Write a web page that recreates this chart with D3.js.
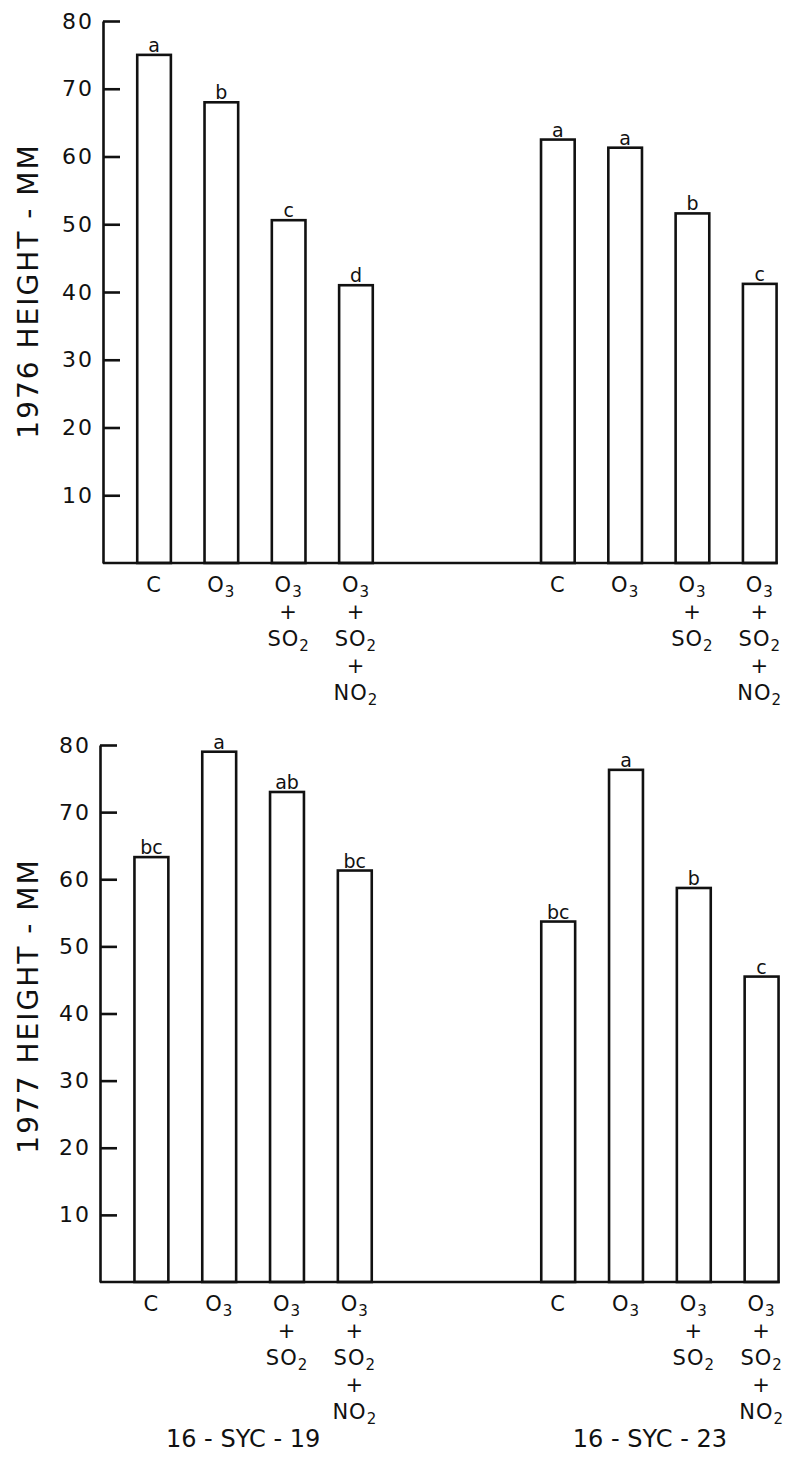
<!DOCTYPE html>
<html>
<head>
<meta charset="utf-8">
<script src="https://cdn.jsdelivr.net/npm/d3@7"></script>
<style>
  body { margin: 0; background: #fff; }
  text { font-family: "DejaVu Sans", sans-serif; fill: #111; }
</style>
</head>
<body>
<div id="chart"></div>
<script>
// data
let clones = ["16-SYC-19", "16-SYC-23"];
let treatments = ["C", "O3", "O3+SO2", "O3+SO2+NO2"];
// label lines for each treatment: [text, subscript]
let treatmentLines = [
  [["C", ""]],
  [["O", "3"]],
  [["O", "3"], ["+", ""], ["SO", "2"]],
  [["O", "3"], ["+", ""], ["SO", "2"], ["+", ""], ["NO", "2"]]
];
let yTicks = [10, 20, 30, 40, 50, 60, 70, 80];

let h1976_19 = [75, 68, 50.6, 41];
let h1976_23 = [62.5, 61.3, 51.6, 41.2];
let h1977_19 = [63.3, 79, 73, 61.3];
let h1977_23 = [53.7, 76.3, 58.7, 45.5];

let let1976_19 = ["a", "b", "c", "d"];
let let1976_23 = ["a", "a", "b", "c"];
let let1977_19 = ["bc", "a", "ab", "bc"];
let let1977_23 = ["bc", "a", "b", "c"];

let svgWidth = 785;
let svgHeight = 1457;

let svg = d3.select("#chart")
  .append("svg")
  .attr("width", svgWidth)
  .attr("height", svgHeight);

// panel layout
let panels = [
  { title: "1976  HEIGHT - MM", axisX: 103, y0: 563, y80: 21, titleY: 291,
    xStart: 120.4, xSpan: 673, values: [h1976_19, h1976_23], letters: [let1976_19, let1976_23] },
  { title: "1977  HEIGHT - MM", axisX: 100, y0: 1282, y80: 745, titleY: 1006,
    xStart: 117.5, xSpan: 678, values: [h1977_19, h1977_23], letters: [let1977_19, let1977_23] }
];

panels.forEach(function(p, pi) {
  let g = svg.append("g");

  let yScale = d3.scaleLinear().domain([0, 80]).range([p.y0, p.y80]);
  let groupScale = d3.scaleBand()
    .domain(clones)
    .range([p.xStart, p.xStart + p.xSpan])
    .paddingInner(1 / 3)
    .paddingOuter(0);
  let barScale = d3.scaleBand()
    .domain(treatments)
    .range([0, groupScale.bandwidth()])
    .paddingInner(0.5)
    .paddingOuter(0.25);

  // y axis with inward ticks
  let leftAxis = d3.axisLeft(yScale)
    .tickValues(yTicks)
    .tickSizeInner(-17)
    .tickSizeOuter(0)
    .tickPadding(9)
    .tickFormat(d3.format("d"));
  let axisG = g.append("g")
    .attr("transform", `translate(${p.axisX}, 0)`)
    .call(leftAxis);
  axisG.selectAll("path, line")
    .attr("stroke", "#111")
    .attr("stroke-width", 2.6);
  axisG.selectAll("text")
    .attr("font-size", "22px")
    .attr("font-family", "DejaVu Sans, sans-serif")
    .attr("letter-spacing", "2px")
    .attr("fill", "#111");

  // bars
  clones.forEach(function(clone, ci) {
    let gx = groupScale(clone);
    let data = treatments.map((t, i) => ({ t: t, v: p.values[ci][i], l: p.letters[ci][i] }));

    g.selectAll(".bar" + ci)
      .data(data)
      .enter()
      .append("rect")
      .attr("x", d => gx + barScale(d.t))
      .attr("y", d => yScale(d.v))
      .attr("width", barScale.bandwidth())
      .attr("height", d => yScale(0) - yScale(d.v))
      .attr("fill", "#fff")
      .attr("stroke", "#111")
      .attr("stroke-width", 2.6);

    // significance letters
    g.selectAll(".let" + ci)
      .data(data)
      .enter()
      .append("text")
      .attr("x", d => gx + barScale(d.t) + barScale.bandwidth() / 2)
      .attr("y", d => yScale(d.v) - 3)
      .attr("text-anchor", "middle")
      .attr("font-size", "19px")
      .text(d => d.l);

    // treatment labels under the axis
    treatments.forEach(function(t, ti) {
      let cx = gx + barScale(t) + barScale.bandwidth() / 2;
      treatmentLines[ti].forEach(function(line, li) {
        let txt = g.append("text")
          .attr("x", cx)
          .attr("y", yScale(0) + 29 + li * 27)
          .attr("text-anchor", "middle")
          .attr("font-size", "21px")
          .attr("letter-spacing", "1px");
        txt.append("tspan").text(line[0]);
        if (line[1]) {
          txt.append("tspan")
            .attr("font-size", "15px")
            .attr("dy", 5)
            .text(line[1]);
        }
      });
    });

    // clone names under bottom panel
    if (pi === 1) {
      g.append("text")
        .attr("x", gx + groupScale.bandwidth() / 2 - 10)
        .attr("y", 1447)
        .attr("text-anchor", "middle")
        .attr("font-size", "24px")
        .text(clone.replace(/-/g, " - "));
    }
  });

  // baseline
  let lastX = groupScale(clones[1]) + barScale(treatments[3]) + barScale.bandwidth();
  g.append("line")
    .attr("x1", p.axisX)
    .attr("x2", lastX + 1)
    .attr("y1", yScale(0))
    .attr("y2", yScale(0))
    .attr("stroke", "#111")
    .attr("stroke-width", 2.6);

  // y title
  g.append("text")
    .attr("transform", `translate(38, ${p.titleY}) rotate(-90)`)
    .attr("text-anchor", "middle")
    .attr("font-size", "28px")
    .attr("letter-spacing", "2px")
    .text(p.title);
});
</script>
</body>
</html>
